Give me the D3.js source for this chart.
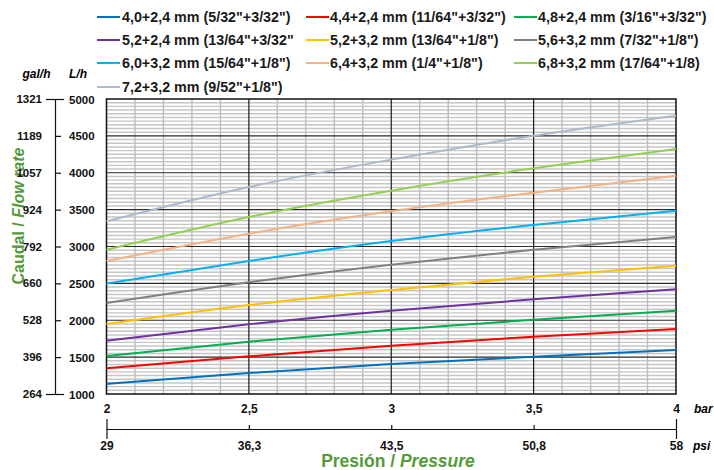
<!DOCTYPE html>
<html><head><meta charset="utf-8">
<script src="https://cdn.jsdelivr.net/npm/d3@7"></script>
<style>
body{margin:0;background:#fff;}
svg{font-family:"Liberation Sans",Arial,sans-serif;font-weight:bold;}
</style></head>
<body>
<svg id="c" width="714" height="470"></svg>
<script>
const pressureBar = [2, 2.5, 3, 3.5, 4];
const pressurePsi = ["29", "36,3", "43,5", "50,8", "58"];
const flowTicksLh = [1000, 1500, 2000, 2500, 3000, 3500, 4000, 4500, 5000];
const flowTicksGal = ["264", "396", "528", "660", "792", "924", "1057", "1189", "1321"];
const seriesNames = [
  '4,0+2,4 mm (5/32"+3/32")', '4,4+2,4 mm (11/64"+3/32")', '4,8+2,4 mm (3/16"+3/32")',
  '5,2+2,4 mm (13/64"+3/32"', '5,2+3,2 mm (13/64"+1/8")', '5,6+3,2 mm (7/32"+1/8")',
  '6,0+3,2 mm (15/64"+1/8")', '6,4+3,2 mm (1/4"+1/8")', '6,8+3,2 mm (17/64"+1/8)',
  '7,2+3,2 mm (9/52"+1/8")'
];
const s40  = [1136, 1285, 1408, 1506, 1597];
const s44  = [1348, 1511, 1655, 1777, 1881];
const s48  = [1515, 1709, 1872, 2007, 2130];
const s52a = [1723, 1945, 2130, 2284, 2420];
const s52b = [1949, 2207, 2410, 2591, 2740];
const s56  = [2234, 2515, 2753, 2957, 3129];
const s60  = [2496, 2803, 3075, 3292, 3486];
const s64  = [2803, 3174, 3478, 3730, 3960];
const s68  = [2957, 3400, 3757, 4060, 4322];
const s72  = [3341, 3807, 4178, 4502, 4774];
const seriesValues = [s40, s44, s48, s52a, s52b, s56, s60, s64, s68, s72];
const colors = ["#0070c0", "#ff0000", "#00b050", "#7030a0", "#ffc000", "#808080", "#00b0f0", "#f4b183", "#92d050", "#adb9ca"];

const svg = d3.select("#c");
const L = 106.5, R = 676, T = 99, B = 394;
const x = d3.scaleLinear().domain([2, 4]).range([L, R]);
const y = d3.scaleLinear().domain([1000, 5000]).range([B, T]);
const green = "#549a3a";

// y title (drawn first, labels on top)
const yt = svg.append("text").attr("transform", "translate(23.5,216) rotate(-90)")
  .attr("text-anchor", "middle").attr("font-size", 16).attr("fill", green);
yt.append("tspan").text("Caudal / ");
yt.append("tspan").attr("font-style", "italic").text("Flow rate");

// grid
const g = svg.append("g");
const minorY = d3.range(1000, 5001, 50).filter(v => v % 500 !== 0);
g.selectAll(".hy").data(minorY).join("line")
  .attr("x1", L).attr("x2", R).attr("y1", d => y(d)).attr("y2", d => y(d))
  .attr("stroke", "#c6c6c6").attr("stroke-width", 1.4);
const minorX = d3.range(21, 40).map(v => v / 10).filter(v => Math.round(v * 10) % 5 !== 0);
g.selectAll(".vx").data(minorX).join("line")
  .attr("x1", d => x(d)).attr("x2", d => x(d)).attr("y1", T).attr("y2", B)
  .attr("stroke", "#bdbdbd").attr("stroke-width", 1.4);
g.selectAll(".my").data([1500, 2000, 2500, 3000, 3500, 4000, 4500]).join("line")
  .attr("x1", L).attr("x2", R).attr("y1", d => y(d)).attr("y2", d => y(d))
  .attr("stroke", "#2a2a2a").attr("stroke-width", 1.2);
g.selectAll(".mx").data([2.5, 3, 3.5]).join("line")
  .attr("x1", d => x(d)).attr("x2", d => x(d)).attr("y1", T).attr("y2", B)
  .attr("stroke", "#1a1a1a").attr("stroke-width", 1.2);
g.append("rect").attr("x", L).attr("y", T).attr("width", R - L).attr("height", B - T)
  .attr("fill", "none").attr("stroke", "#111").attr("stroke-width", 1.5);

// lines
const line = d3.line().x((d, i) => x(pressureBar[i])).y(d => y(d)).curve(d3.curveNatural);
svg.append("g").selectAll("path").data(seriesValues).join("path")
  .attr("d", d => line(d)).attr("fill", "none")
  .attr("stroke", (d, i) => colors[i]).attr("stroke-width", 2);

// legend
const colLineX = [97, 306, 514], colTextX = [122, 330, 538], rowY = [17, 40, 63, 87];
const lg = svg.append("g");
seriesNames.forEach((name, i) => {
  const c = i % 3, r = Math.floor(i / 3);
  lg.append("line").attr("x1", colLineX[c]).attr("x2", colLineX[c] + 23)
    .attr("y1", rowY[r]).attr("y2", rowY[r]).attr("stroke", colors[i]).attr("stroke-width", 2);
  lg.append("text").attr("x", colTextX[c]).attr("y", rowY[r] + 5)
    .attr("font-size", 14.3).attr("fill", "#1a1a1a").text(name);
});

// left dual axis
const ax = svg.append("g").attr("transform", "translate(55,0)")
  .call(d3.axisRight(y).tickValues(flowTicksLh).tickSize(6).tickFormat(d => d));
ax.select(".domain").attr("d", `M0.5,${T}V${B}`).attr("stroke", "#111").attr("stroke-width", 1.2);
ax.selectAll(".tick line").attr("stroke", "#111").attr("stroke-width", 1.2)
  .attr("x1", d => (d === 1000 || d === 5000) ? -9 : 0).attr("x2", d => (d === 1000 || d === 5000) ? 9 : 6);
ax.selectAll(".tick text").attr("x", 14).attr("dy", "0.35em").attr("font-size", 11.5)
  .attr("font-family", "Liberation Sans, Arial").attr("font-weight", "bold").attr("fill", "#111");
svg.append("g").selectAll("text").data(flowTicksLh).join("text")
  .attr("x", 42).attr("y", d => y(d)).attr("dy", "0.35em").attr("text-anchor", "end")
  .attr("font-size", 11.5).attr("fill", "#111").text((d, i) => flowTicksGal[i]);
svg.append("text").attr("x", 36.5).attr("y", 78).attr("text-anchor", "middle")
  .attr("font-size", 12).attr("font-style", "italic").text("gal/h");
svg.append("text").attr("x", 69).attr("y", 78)
  .attr("font-size", 12).attr("font-style", "italic").text("L/h");

// bottom bar axis
const bx = svg.append("g").attr("transform", "translate(0,413)")
  .call(d3.axisBottom(x).tickValues(pressureBar).tickSize(0).tickFormat(d => String(d).replace(".", ",")));
bx.select(".domain").remove();
bx.selectAll(".tick text").attr("y", 0).attr("dy", 0).attr("font-size", 12)
  .attr("font-family", "Liberation Sans, Arial").attr("font-weight", "bold").attr("fill", "#111");
svg.append("text").attr("x", 694).attr("y", 413).attr("font-size", 12).attr("font-style", "italic").text("bar");

// psi axis
const px = svg.append("g").attr("transform", "translate(0,429)")
  .call(d3.axisTop(x).tickValues(pressureBar).tickSize(4).tickFormat((d, i) => pressurePsi[i]));
px.select(".domain").attr("d", `M${L},0.5H${R}`).attr("stroke", "#111").attr("stroke-width", 1.2);
px.selectAll(".tick line").attr("stroke", "#111").attr("stroke-width", 1.2)
  .attr("y1", d => (d === 2 || d === 4) ? 10 : 0).attr("y2", d => (d === 2 || d === 4) ? -10 : -4);
px.selectAll(".tick text").attr("y", 20.5).attr("dy", 0).attr("font-size", 12)
  .attr("font-family", "Liberation Sans, Arial").attr("font-weight", "bold").attr("fill", "#111");
svg.append("text").attr("x", 693).attr("y", 450).attr("font-size", 12).attr("font-style", "italic").text("psi");

// x title
const xt = svg.append("text").attr("x", 398).attr("y", 467).attr("text-anchor", "middle")
  .attr("font-size", 17.5).attr("fill", green);
xt.append("tspan").text("Presión / ");
xt.append("tspan").attr("font-style", "italic").text("Pressure");
</script>
</body></html>
